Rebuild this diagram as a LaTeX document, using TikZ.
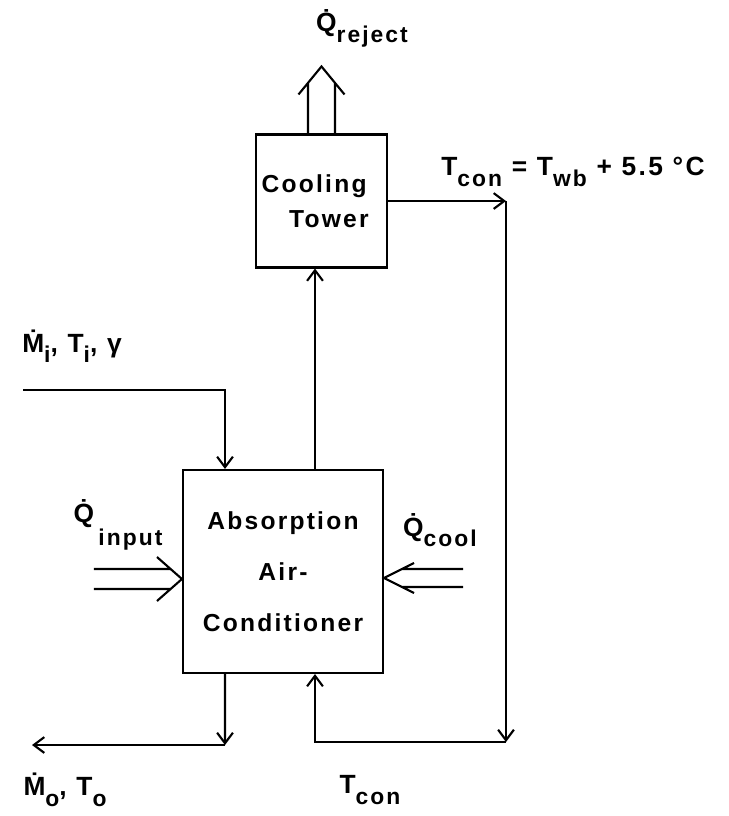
\documentclass[tikz,border=0pt]{standalone}
\usepackage{fontspec}
\setmainfont{Liberation Sans}[LetterSpace=9]
\usetikzlibrary{arrows.meta}

\tikzset{
  unit/.style={draw, line width=1.2pt, rectangle, align=center,
    font=\fontsize{14}{16}\selectfont\bfseries},
  flow/.style={line width=1.2pt, -{Straight Barb[length=6pt,width=9pt,line width=1.2pt]}},
  heat/.style={line width=1.2pt, line join=miter},
  tag/.style={font=\fontsize{15}{17}\selectfont\bfseries, inner sep=1pt}
}
\newcommand\lowr[1]{\raisebox{-0.75ex}{\fontsize{13}{15}\selectfont #1}}

\begin{document}
\begin{tikzpicture}[x=0.02cm, y=-0.02cm]
  \useasboundingbox (0,0) rectangle (729,816);

  % units
  \node[unit, inner sep=1pt, minimum width=2.62cm, minimum height=2.66cm] (tower) at (321.5,201) {Cooling\hspace*{0.6em}\\[4pt]\hspace*{0.6em}Tower};
  \node[unit, minimum width=4cm, minimum height=4.06cm] (absorber) at (283,571.5) {Absorption\\[13pt]Air-\\[13pt]Conditioner};

  % free ends and corners
  \coordinate (inlet) at (23,390);
  \coordinate (outlet) at (32,745);
  \coordinate (outknee) at (225,745);
  \coordinate (towerout) at (506,201);
  \coordinate (loopbot) at (506,742);
  \coordinate (qintip) at ([yshift=-0.15cm]absorber.west);
  \coordinate (qcooltip) at ([yshift=-0.13cm]absorber.east);

  % water loop
  \draw[flow] ([xshift=0.64cm]absorber.north) -- ([xshift=0.64cm]absorber.north |- tower.south);
  \draw[flow] (tower.east) -- (towerout);
  \draw[flow] (towerout) -- (loopbot);
  \draw[flow] (loopbot) -| ([xshift=0.64cm]absorber.south);

  % air in and out
  \draw[flow] (inlet) -| ([xshift=-1.16cm]absorber.north);
  \draw[flow] ([xshift=-1.16cm]absorber.south) -- (outknee);
  \draw[flow] (outknee) -- (outlet);

  % heat flows
  \draw[heat] ([xshift=-0.27cm]tower.north) -- ++(0,-51)
              ([xshift=0.27cm]tower.north) -- ++(0,-51)
              ([shift={(-23,-39)}]tower.north) -- ([shift={(0,-67)}]tower.north) -- ([shift={(23,-39)}]tower.north);
  \draw[heat] ([shift={(-88,-10)}]qintip) -- ([shift={(-11,-10)}]qintip)
              ([shift={(-88,10)}]qintip) -- ([shift={(-11,10)}]qintip)
              ([shift={(-25,-22)}]qintip) -- (qintip) -- ([shift={(-25,22)}]qintip);
  \draw[heat] ([shift={(79,-9)}]qcooltip) -- ([shift={(18,-9)}]qcooltip)
              ([shift={(79,9)}]qcooltip) -- ([shift={(18,9)}]qcooltip)
              ([shift={(30,-15)}]qcooltip) -- (qcooltip) -- ([shift={(30,15)}]qcooltip);

  % labels
  \node[tag] (qreject) at (362,28) {\.Q\lowr{reject}};
  \node[tag] (tcondef) at (573,172) {T\lowr{con} = T\lowr{wb} + 5.5 °C};
  \node[tag] (instate) at (72,346) {\.M\lowr{i}, T\lowr{i}, γ};
  \node[tag] (qinput) at (118,525) {\raisebox{0.9ex}{\.Q}\,\lowr{input}};
  \node[tag] (qcool) at (440,530) {\.Q\lowr{cool}};
  \node[tag] (outstate) at (65,790) {\.M\lowr{o}, T\lowr{o}};
  \node[tag] (tconret) at (370,790) {T\lowr{con}};
\end{tikzpicture}
\end{document}
